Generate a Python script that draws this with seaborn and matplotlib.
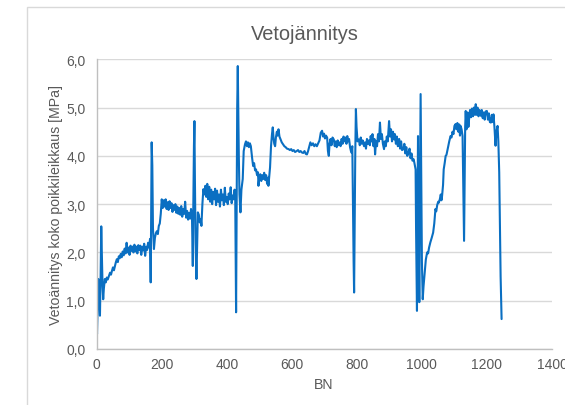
import matplotlib
matplotlib.use("Agg")
import matplotlib.pyplot as plt
import seaborn as sns
import pandas as pd
from matplotlib.patches import Rectangle
from matplotlib.ticker import FuncFormatter

# ---- data ----
bn = [
    0, 1, 2, 4, 5, 7, 9, 10, 12, 14, 16, 18, 20, 22, 25,
    28, 31, 34, 38, 41, 44, 47, 50, 53, 56, 59, 62, 65, 68, 71, 74, 77, 80, 83, 86, 89, 92, 95, 98,
    101, 104, 107, 110, 113, 116, 119, 122, 125, 128, 131, 134, 137, 140, 143, 146, 149, 152, 155,
    158, 161, 164,
    166, 168, 169, 171, 173, 176, 179, 182, 185, 188, 191, 194, 197, 200,
    203, 206, 209, 212, 215, 218, 221, 224, 227, 230, 233, 236, 239, 242, 245, 248, 251, 254, 257,
    260, 263, 266, 269, 272, 275, 278, 281, 284, 287, 290, 293,
    295.5, 297, 299, 300.5, 302, 304, 306.7, 309, 311, 314, 317, 320, 322, 325, 328,
    331, 334, 337, 340, 343, 346, 349, 352, 355, 358, 361, 364, 367, 370, 373, 376, 379, 382, 385,
    388, 391, 394, 397, 400, 403, 406, 409, 412, 415, 418, 421, 424, 426,
    428.6, 430, 432, 433.8, 435, 437, 439, 442, 445, 449, 452, 456,
    459, 462, 465, 468, 471, 474,
    478, 481, 484, 487, 490, 493, 496, 497.4, 500, 503, 506, 509, 512, 515, 518, 521, 524, 527, 528,
    531, 533,
    536, 539, 541.4, 544, 546, 548.6, 551, 554, 556, 559, 562, 565, 569, 573, 577, 581, 585, 590,
    594, 598, 602, 606, 610, 615, 619, 623, 627, 631, 635, 639, 643, 646.5, 650, 654, 657, 661, 665,
    669, 673, 677, 681, 685, 689, 693, 696, 699, 702, 705, 708.6, 711, 713.7, 716, 719, 722, 725,
    729, 732, 735, 738, 741, 744, 747, 750, 753, 756, 759, 762, 765, 768, 770.5, 773, 776, 779,
    782.8, 786, 788, 790, 791.5, 793, 795, 797, 799, 802, 806, 809, 812, 815, 818, 822, 825, 828,
    831, 834, 837, 840, 842.5, 845, 848, 851, 854, 856, 859, 862, 865, 868, 871, 874, 877, 880,
    883.5, 886, 889, 892, 895, 899, 902, 905, 908, 911, 914.5, 917, 920, 923, 926, 930, 933, 936,
    939, 943.5, 946, 949, 952, 955, 959, 962, 965, 968, 971, 974.5, 977, 980.6,
    982, 984.8, 986, 988, 990, 992, 994, 996, 998, 1000, 1002.5, 1005, 1008.7, 1012, 1016, 1019,
    1022, 1026, 1030, 1034.5, 1038, 1041.6, 1044, 1047, 1050, 1052, 1055, 1058, 1060, 1062, 1065,
    1067, 1070, 1073, 1075.5, 1077.8, 1081, 1084, 1088, 1091, 1094, 1097, 1100, 1103.7, 1106, 1109,
    1112, 1115, 1117, 1119, 1122, 1125, 1127, 1129.6, 1131, 1133, 1134.7, 1137, 1140, 1143, 1145,
    1148, 1151, 1154, 1157, 1160, 1163, 1165.5, 1168, 1171, 1174, 1177, 1181, 1184, 1187, 1190,
    1193, 1196, 1199.7, 1203, 1206, 1209, 1212, 1215, 1218, 1220, 1223, 1226.4, 1229, 1232.6, 1235,
    1237.7, 1240, 1242, 1245,
]
stress = [
    0.52, 0.31, 0.6, 1.2, 1.45, 1.4, 0.85, 0.69, 1.5, 2.54, 1.9, 1.3, 1.03, 1.25, 1.45,
    1.38, 1.48, 1.44, 1.52, 1.58, 1.54, 1.62, 1.69, 1.63, 1.72, 1.8, 1.86, 1.8, 1.92, 1.88, 1.97,
    1.9, 2.02, 1.94, 2.08, 1.98, 2.2, 2.0, 2.1,
    1.95, 2.14, 2.03, 2.12, 2.0, 2.16, 2.02, 2.12, 1.98, 2.15, 2.05, 2.14, 1.95, 2.12, 2.04, 2.18,
    1.93, 2.12, 2.05, 2.2, 2.1, 2.28,
    1.38, 3.2, 4.28, 3.8, 2.5, 2.07, 2.3, 2.4, 2.44, 2.38, 2.55, 2.6, 2.8, 3.1,
    2.92, 3.08, 2.95, 3.1, 2.9, 3.04, 2.88, 3.06, 2.92, 3.02, 2.84, 2.98, 2.88, 3.0, 2.82, 2.95,
    2.8, 2.92, 2.78, 2.96, 2.74, 2.9, 2.8, 3.05, 2.72, 2.86, 2.68, 2.82, 2.7, 2.9, 2.72,
    1.72, 2.9, 4.2, 4.72, 3.5, 2.2, 1.45, 2.2, 2.83, 2.78, 2.62, 2.69, 2.55, 3.0, 3.31,
    3.2, 3.38, 3.15, 3.42, 3.1, 3.36, 3.05, 3.3, 3.0, 3.25, 3.1, 3.32, 2.98, 3.28, 3.05, 3.2, 2.95,
    3.3, 3.08, 3.2, 2.98, 3.34, 3.05, 3.15, 3.0, 3.22, 3.1, 3.35, 3.02, 3.18, 3.1, 3.3, 3.1,
    0.76, 2.5, 5.0, 5.86, 5.2, 4.0, 3.2, 2.83, 3.3, 3.52, 4.1, 4.24,
    4.3, 4.2, 4.28, 4.18, 4.26, 4.2,
    3.95, 3.79, 3.85, 3.7, 3.72, 3.6, 3.66, 3.38, 3.55, 3.62, 3.48, 3.6, 3.52, 3.65, 3.5, 3.6,
    3.42, 3.55, 3.38, 3.6, 3.76,
    4.2, 4.45, 4.59, 4.35, 4.25, 4.2, 4.38, 4.5, 4.42, 4.55, 4.4, 4.35, 4.28, 4.24, 4.2, 4.18,
    4.15, 4.14, 4.12, 4.14, 4.1, 4.12, 4.08, 4.1, 4.12, 4.08, 4.1, 4.07, 4.06, 4.1, 4.04, 4.03,
    4.1, 4.2, 4.28, 4.22, 4.26, 4.2, 4.24, 4.2, 4.26, 4.32, 4.48, 4.52, 4.4, 4.46, 4.36, 4.42,
    4.38, 4.1, 4.0, 4.25, 4.35, 4.22, 4.38, 4.34, 4.2, 4.3, 4.18, 4.32, 4.22, 4.28, 4.2, 4.35,
    4.25, 4.4, 4.3, 4.38, 4.25, 4.41, 4.3, 4.35, 4.18, 4.07, 4.2, 3.0, 1.8, 1.17, 2.5, 4.0, 4.97,
    4.6, 4.3, 4.34, 4.22, 4.38, 4.25, 4.32, 4.2, 4.28, 4.15, 4.35, 4.25, 4.32, 4.22, 4.41, 4.3,
    4.45, 4.2, 4.35, 4.03, 4.3, 4.2, 4.45, 4.3, 4.69, 4.35, 4.45, 4.25, 4.14, 4.3, 4.2, 4.4, 4.3,
    4.72, 4.4, 4.55, 4.3, 4.5, 4.34, 4.45, 4.25, 4.4, 4.2, 4.35, 4.15, 4.3, 4.12, 4.14, 4.25,
    4.05, 4.18, 4.0, 4.07, 4.15, 3.95, 4.05, 3.9, 3.93, 3.85, 3.72,
    2.5, 0.79, 2.5, 4.41, 2.5, 0.97, 3.0, 5.28, 3.5, 1.8, 1.03, 1.3, 1.59, 1.85, 2.0, 1.98, 2.1,
    2.21, 2.3, 2.41, 2.6, 2.9, 2.85, 2.98, 3.05, 3.03, 3.1, 3.2, 3.08, 3.17, 3.4, 3.72, 3.85, 4.0,
    4.02, 4.1, 4.2, 4.3, 4.41, 4.38, 4.5, 4.45, 4.62, 4.66, 4.55, 4.68, 4.5, 4.65, 4.42, 4.62,
    4.55, 4.41, 3.5, 2.24, 3.2, 4.6, 4.93, 4.55, 4.9, 4.6, 4.76, 4.95, 4.8, 4.98, 4.82, 5.0, 4.85,
    5.07, 4.85, 5.0, 4.82, 4.95, 4.83, 4.95, 4.78, 4.9, 4.75, 4.92, 4.93, 4.75, 4.88, 4.7, 4.69,
    4.85, 4.7, 4.86, 4.6, 4.21, 4.5, 4.62, 4.3, 3.66, 2.5, 1.5, 0.62,
]
x_ticks = [0, 200, 400, 600, 800, 1000, 1200, 1400]
y_ticks = [0, 1, 2, 3, 4, 5, 6]
title = "Vetojännitys"
x_label = "BN"
y_label = "Vetoännitys koko poikkileikkaus [MPa]"

df = pd.DataFrame({"BN": bn, "stress": stress})

sns.set_theme(style="white")
plt.rcParams["font.family"] = ["Liberation Sans", "DejaVu Sans"]

W, H = 565, 406
fig = plt.figure(figsize=(W / 100, H / 100), dpi=100)

# outer chart-area border (extends beyond the cropped figure)
fig.patches.append(Rectangle((27 / W, -0.2), 1.2, 1 - 7.7 / H + 0.2, transform=fig.transFigure,
                             fill=False, edgecolor="#D9D9D9", linewidth=1.0))

ax = fig.add_axes([96.7 / W, 1 - 350 / H, (552 - 96.7) / W, (350 - 60.3) / H])

sns.lineplot(data=df, x="BN", y="stress", ax=ax, color="#0A6FC2", linewidth=1.5,
             estimator=None, sort=False)

ax.set_xlim(0, 1400)
ax.set_ylim(0, 6)
ax.set_xticks(x_ticks)
ax.set_yticks(y_ticks)
ax.yaxis.set_major_formatter(FuncFormatter(lambda v, p: f"{v:.1f}".replace(".", ",")))
ax.xaxis.set_major_formatter(FuncFormatter(lambda v, p: f"{int(v)}"))
ax.grid(axis="y", color="#D9D9D9", linewidth=1.0)
ax.grid(axis="x", visible=False)
ax.set_axisbelow(True)
for s in ["top", "right"]:
    ax.spines[s].set_visible(False)
for s in ["left", "bottom"]:
    ax.spines[s].set_color("#BFBFBF")
    ax.spines[s].set_linewidth(1.0)
ax.tick_params(axis="both", length=0, labelsize=10, labelcolor="#595959")
ax.tick_params(axis="y", pad=8.0)
ax.tick_params(axis="x", pad=6.0)
ax.set_xlabel("")
ax.set_ylabel("")

fig.text(304.5 / W, 1 - 35 / H, title, ha="center", va="center", fontsize=14.4, color="#595959")
fig.text(324 / W, 1 - 385 / H, x_label, ha="center", va="center", fontsize=10.2, color="#595959")
fig.text(56.5 / W, 1 - 205 / H, y_label, ha="center", va="center", rotation=90,
         fontsize=10.2, color="#595959")

fig.savefig("out.png", dpi=100)
